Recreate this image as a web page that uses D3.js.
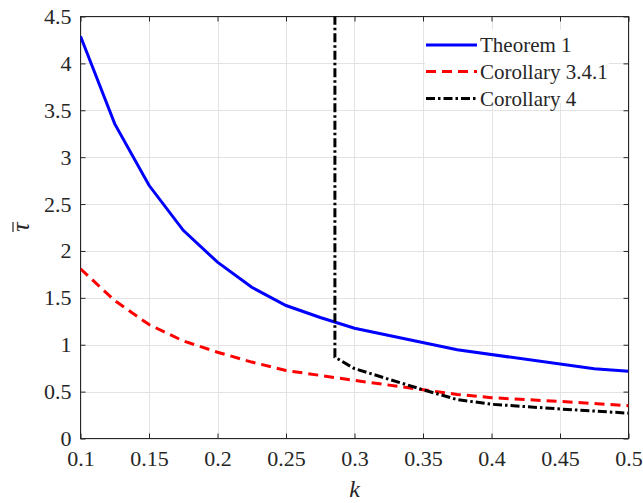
<!DOCTYPE html>
<html>
<head>
<meta charset="utf-8">
<script src="https://cdn.jsdelivr.net/npm/d3@7"></script>
<style>
  html, body { margin: 0; padding: 0; background: #fff; }
  svg { display: block; }
  text { font-family: "Liberation Serif", "Times New Roman", serif; fill: #262626; }
</style>
</head>
<body>
<svg id="chart" width="643" height="503"></svg>
<script>
// ---- data ----
const xTicks = [0.1, 0.15, 0.2, 0.25, 0.3, 0.35, 0.4, 0.45, 0.5];
const yTicks = [0, 0.5, 1, 1.5, 2, 2.5, 3, 3.5, 4, 4.5];
const xTickLabels = ["0.1", "0.15", "0.2", "0.25", "0.3", "0.35", "0.4", "0.45", "0.5"];
const yTickLabels = ["0", "0.5", "1", "1.5", "2", "2.5", "3", "3.5", "4", "4.5"];

const theoremK = [0.1, 0.125, 0.15, 0.175, 0.2, 0.225, 0.25, 0.275, 0.3, 0.375, 0.475, 0.5];
const theoremV = [4.29, 3.355, 2.70, 2.22, 1.88, 1.613, 1.418, 1.29, 1.176, 0.946, 0.743, 0.718];

const corA_K = [0.1, 0.125, 0.15, 0.175, 0.2, 0.225, 0.25, 0.3, 0.35, 0.375, 0.4, 0.45, 0.5];
const corA_V = [1.81, 1.47, 1.215, 1.04, 0.92, 0.815, 0.725, 0.62, 0.52, 0.47, 0.435, 0.395, 0.35];

const corB_K = [0.2857, 0.2857, 0.3, 0.35, 0.375, 0.4, 0.45, 0.5];
const corB_V = [6.0, 0.867, 0.745, 0.52, 0.415, 0.365, 0.315, 0.27];

const seriesNames = ["Theorem 1", "Corollary 3.4.1", "Corollary 4"];

// ---- layout ----
const svg = d3.select("#chart");
const L = 80.5, R = 628.5, T = 16.5, B = 438.5;
const x = d3.scaleLinear().domain([0.1, 0.5]).range([L, R]);
const y = d3.scaleLinear().domain([0, 4.5]).range([B, T]);

svg.append("defs").append("clipPath").attr("id", "clip")
  .append("rect").attr("x", L).attr("y", T).attr("width", R - L).attr("height", B - T);

// grid
const grid = svg.append("g");
grid.selectAll("line.gx").data(xTicks).enter().append("line")
  .attr("x1", d => Math.round(x(d)) + 0.5).attr("x2", d => Math.round(x(d)) + 0.5)
  .attr("y1", T).attr("y2", B).attr("stroke", "#e3e3e3").attr("stroke-width", 1);
grid.selectAll("line.gy").data(yTicks).enter().append("line")
  .attr("y1", d => Math.round(y(d)) + 0.5).attr("y2", d => Math.round(y(d)) + 0.5)
  .attr("x1", L).attr("x2", R).attr("stroke", "#e3e3e3").attr("stroke-width", 1);

// axes via d3 axes
const axCol = "#262626";
const xAxisB = d3.axisBottom(x).tickValues(xTicks).tickFormat((d, i) => xTickLabels[i]).tickSizeInner(-5).tickSizeOuter(0).tickPadding(12);
const yAxisL = d3.axisLeft(y).tickValues(yTicks).tickFormat((d, i) => yTickLabels[i]).tickSizeInner(-5).tickSizeOuter(0).tickPadding(9);
const xAxisT = d3.axisTop(x).tickValues(xTicks).tickFormat("").tickSizeInner(-5).tickSizeOuter(0);
const yAxisR = d3.axisRight(y).tickValues(yTicks).tickFormat("").tickSizeInner(-5).tickSizeOuter(0);

function styleAxis(g) {
  g.attr("font-family", null);
  g.select(".domain").remove();
  g.selectAll(".tick line").attr("stroke", axCol);
  g.selectAll(".tick text").attr("fill", axCol).style("font-size", "22px");
}
svg.append("g").attr("transform", `translate(0,${B})`).call(xAxisB).call(styleAxis);
svg.append("g").attr("transform", `translate(${L},0)`).call(yAxisL).call(styleAxis);
svg.append("g").attr("transform", `translate(0,${T})`).call(xAxisT).call(styleAxis);
svg.append("g").attr("transform", `translate(${R},0)`).call(yAxisR).call(styleAxis);

svg.append("rect").attr("x", L).attr("y", T).attr("width", R - L).attr("height", B - T)
  .attr("fill", "none").attr("stroke", axCol).attr("stroke-width", 1);

// lines
const line = d3.line().x(d => x(d[0])).y(d => y(d[1]));
const plot = svg.append("g").attr("clip-path", "url(#clip)");
const styles = [
  { color: "#0000ff", dash: null },
  { color: "#ff0000", dash: "10,6" },
  { color: "#000000", dash: "9,3,2.5,3" }
];
const series = [
  d3.zip(theoremK, theoremV),
  d3.zip(corA_K, corA_V),
  d3.zip(corB_K, corB_V)
];
series.forEach((s, i) => {
  plot.append("path").datum(s).attr("d", line)
    .attr("fill", "none").attr("stroke", styles[i].color).attr("stroke-width", 3)
    .attr("stroke-dasharray", styles[i].dash);
});

// legend
const lg = svg.append("g");
lg.append("rect").attr("x", 425).attr("y", 30).attr("width", 184).attr("height", 73).attr("fill", "#fff");
const rowsY = [45, 71.5, 98.5];
seriesNames.forEach((n, i) => {
  lg.append("line").attr("x1", 426).attr("x2", 477).attr("y1", rowsY[i]).attr("y2", rowsY[i])
    .attr("stroke", styles[i].color).attr("stroke-width", 3).attr("stroke-dasharray", styles[i].dash);
  lg.append("text").attr("x", 480).attr("y", rowsY[i]).attr("dy", "0.35em")
    .style("font-size", "21px").text(n);
});

// axis labels
svg.append("text").attr("x", (L + R) / 2).attr("y", 497).attr("text-anchor", "middle")
  .style("font-size", "24px").style("font-style", "italic").text("k");
const yl = svg.append("g").attr("transform", "translate(29,227) rotate(-90)");
yl.append("text").attr("x", 0).attr("y", 0).attr("text-anchor", "middle")
  .style("font-size", "26px").style("font-style", "italic").text("\u03C4");
yl.append("line").attr("x1", -5).attr("x2", 5).attr("y1", -16).attr("y2", -16)
  .attr("stroke", "#262626").attr("stroke-width", 1.2);
</script>
</body>
</html>
